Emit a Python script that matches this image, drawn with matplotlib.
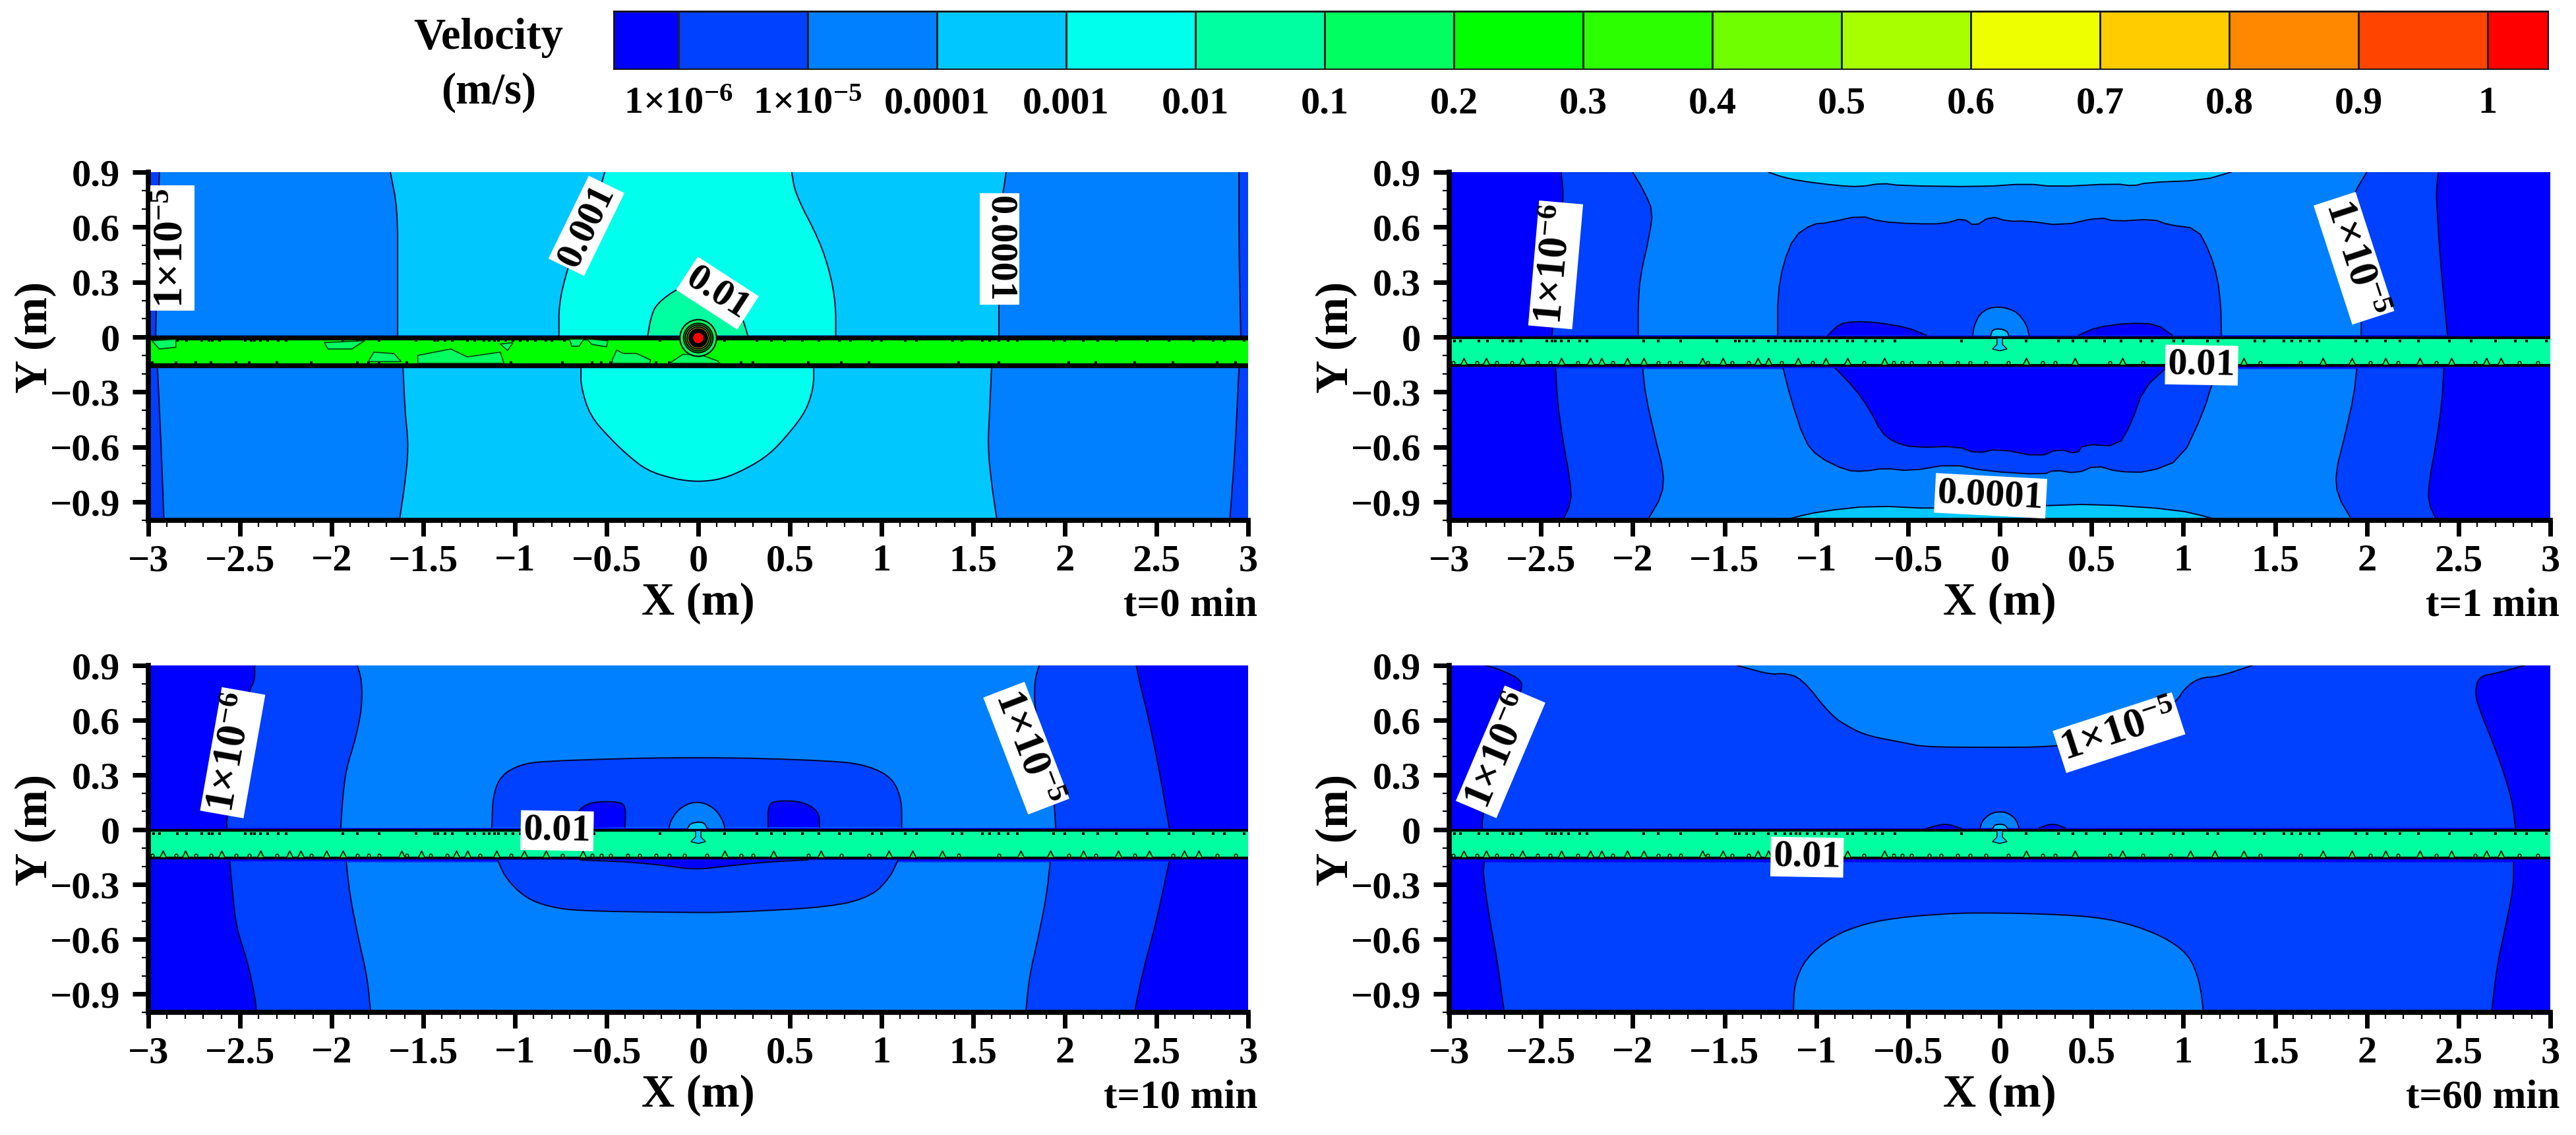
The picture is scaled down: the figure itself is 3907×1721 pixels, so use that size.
#!/usr/bin/env python3
"""Velocity contour maps around a leak source at t = 0, 1, 10 and 60 min."""
import matplotlib
matplotlib.use("Agg")
import matplotlib.pyplot as plt
from matplotlib.colors import ListedColormap
from matplotlib.patches import Circle
from matplotlib.ticker import MultipleLocator
import numpy as np

plt.rcParams["font.family"] = ["Liberation Serif", "DejaVu Serif"]
plt.rcParams["font.weight"] = "bold"
plt.rcParams["mathtext.default"] = "regular"

W, H = 3907, 1721

LEVEL_COLORS = ["#0000ff", "#0040ff", "#0080ff", "#00c8ff", "#00ffec", "#00ffa0",
                "#00ff60", "#00ff00", "#2bff00", "#70ff00", "#a8ff00", "#eeff00",
                "#ffcc00", "#ff8800", "#ff4400", "#ff0000"]
CBAR_EDGES = [-0.5, 0, 1, 2, 3, 4, 5, 6, 7, 8, 9, 10, 11, 12, 13, 14, 14.47]
CBAR_LABELS = ["1×10$^{-6}$", "1×10$^{-5}$", "0.0001", "0.001", "0.01", "0.1", "0.2", "0.3",
               "0.4", "0.5", "0.6", "0.7", "0.8", "0.9", "1"]

X_TICKS = [-3, -2.5, -2, -1.5, -1, -0.5, 0, 0.5, 1, 1.5, 2, 2.5, 3]
X_LABELS = ["−3", "−2.5", "−2", "−1.5", "−1", "−0.5", "0", "0.5", "1", "1.5", "2", "2.5", "3"]
Y_TICKS = [0.9, 0.6, 0.3, 0, -0.3, -0.6, -0.9]
Y_LABELS = ["0.9", "0.6", "0.3", "0", "−0.3", "−0.6", "−0.9"]

# t = 0 min contour lines
P1_UA_L = [(-2.96, 0.01), (-2.95, 0.5), (-2.94, 0.9)]
P1_UA_R = [(2.95, 0.9), (2.95, 0.5), (2.96, 0.01)]
P1_UB_L = [(-1.64, 0.01), (-1.64, 0.35), (-1.64, 0.7), (-1.68, 0.9)]
P1_UB_R = [(1.68, 0.9), (1.65, 0.7), (1.64, 0.35), (1.64, 0.01)]
P1_UC_L = [(-0.76, 0.01), (-0.76, 0.18), (-0.72, 0.35), (-0.66, 0.53), (-0.56, 0.72), (-0.51, 0.9)]
P1_UC_R = [(0.51, 0.9), (0.53, 0.78), (0.66, 0.53), (0.72, 0.35), (0.75, 0.18), (0.75, 0.01)]
P1_UG = [(-0.275, 0.01), (-0.26, 0.1), (-0.23, 0.18), (-0.1, 0.275), (0.02, 0.29),
         (0.15, 0.24), (0.24, 0.11), (0.27, 0.01)]
P1_LA_L = [(-2.95, -0.17), (-2.93, -0.6), (-2.915, -1)]
P1_LA_R = [(2.90, -1), (2.93, -0.6), (2.95, -0.17)]
P1_LB_L = [(-1.61, -0.17), (-1.6, -0.4), (-1.58, -0.6), (-1.6, -0.8), (-1.63, -1)]
P1_LB_R = [(1.63, -1), (1.6, -0.8), (1.58, -0.6), (1.59, -0.4), (1.6, -0.17)]
P1_LC = [(-0.64, -0.17), (-0.64, -0.27), (-0.59, -0.43), (-0.48, -0.553), (-0.39, -0.64),
         (-0.28, -0.728), (-0.13, -0.775), (0, -0.79), (0.13, -0.775), (0.26, -0.72),
         (0.39, -0.64), (0.5, -0.52), (0.59, -0.4), (0.63, -0.27), (0.63, -0.17)]
P1_LAYERS = [(2, [P1_UA_L, P1_UA_R]), (3, [P1_UB_L, P1_UB_R]), (4, [P1_UC_L, P1_UC_R]), (5, [P1_UG]),
             (2, [P1_LA_L, P1_LA_R]), (3, [P1_LB_L, P1_LB_R]), (4, [P1_LC])]
P1_BLOBS = [
    [(-2.98, -0.02), (-2.85, -0.012), (-2.85, -0.056), (-2.94, -0.065)],
    [(-2.04, -0.03), (-1.82, -0.02), (-1.89, -0.065), (-2.02, -0.065)],
    [(-1.77, -0.082), (-1.66, -0.09), (-1.62, -0.134), (-1.8, -0.134)],
    [(-1.53, -0.1), (-1.35, -0.065), (-1.26, -0.108), (-1.08, -0.082), (-1.06, -0.143), (-1.53, -0.143)],
    [(-1.08, -0.038), (-1.01, -0.03), (-1.04, -0.073)],
    [(-0.702, -0.011), (-0.624, -0.011), (-0.65, -0.05), (-0.69, -0.05)],
    [(-0.607, -0.011), (-0.493, -0.02), (-0.5, -0.053), (-0.58, -0.04)],
    [(-0.469, -0.125), (-0.445, -0.071), (-0.409, -0.089), (-0.337, -0.089), (-0.26, -0.125),
     (-0.265, -0.143), (-0.469, -0.143)],
    [(-0.157, -0.143), (-0.085, -0.095), (0.011, -0.095), (0.107, -0.131), (0.119, -0.143)],
]
P1_RING_RADII = [0.10, 0.08, 0.07, 0.06, 0.05]
P1_RING_LEVELS = [6, 7, 9, 12, 14]
P1_CORE_RADIUS = 0.028

# t = 1 min contour lines
P2_UA_L = [(-2.44, 0.01), (-2.4, 0.425), (-2.38, 0.75), (-2.38, 0.8), (-2.39, 0.9)]
P2_UA_R = [(2.39, 0.9), (2.38, 0.8), (2.38, 0.75), (2.4, 0.425), (2.44, 0.01)]
P2_UB_L = [(-1.97, 0.01), (-1.97, 0.177), (-1.96, 0.326), (-1.91, 0.55), (-1.89, 0.685), (-1.94, 0.8), (-2.0, 0.9)]
P2_UB_R = [(2.0, 0.9), (1.94, 0.8), (1.89, 0.685), (1.91, 0.55), (1.96, 0.326), (1.97, 0.177), (1.97, 0.01)]
P2_CAP_U = [(-1.26, 0.9), (-1.19, 0.875), (-1.09, 0.852), (-0.88, 0.826), (-0.76, 0.82), (-0.64, 0.84),
            (-0.54, 0.826), (-0.1, 0.82), (0.148, 0.837), (0.3, 0.82), (0.63, 0.837), (0.73, 0.824),
            (0.8, 0.843), (1.11, 0.856), (1.26, 0.9)]
P2_INNER_U = [(-1.21, 0.01), (-1.21, 0.227), (-1.18, 0.4), (-1.12, 0.55), (-1.02, 0.617), (-0.94, 0.623),
              (-0.76, 0.663), (-0.65, 0.63), (-0.47, 0.618), (-0.3, 0.618), (-0.2, 0.65), (-0.136, 0.603),
              (-0.05, 0.66), (0.045, 0.631), (0.148, 0.634), (0.337, 0.608), (0.543, 0.654), (0.63, 0.631),
              (0.835, 0.644), (0.92, 0.612), (1.076, 0.593), (1.144, 0.464), (1.187, 0.323), (1.205, 0.168),
              (1.208, 0.01)]
P2_BLOB_UL = [(-0.936, 0.01), (-0.874, 0.072), (-0.797, 0.085), (-0.677, 0.081), (-0.505, 0.053), (-0.4, 0.01)]
P2_BLOB_UR = [(0.43, 0.01), (0.526, 0.053), (0.698, 0.076), (0.853, 0.072), (0.94, 0.01)]
P2_BUBBLE = [(-0.147, 0.01), (-0.14, 0.06), (-0.11, 0.125), (-0.06, 0.158), (-0.007, 0.165), (0.05, 0.155),
             (0.1, 0.13), (0.145, 0.07), (0.16, 0.01)]
P2_BUBBLE_IN = [(-0.05, 0.005), (-0.04, 0.04), (0, 0.046), (0.04, 0.033), (0.05, 0.005)]
P2_LA_L = [(-2.42, -0.17), (-2.41, -0.356), (-2.38, -0.566), (-2.34, -0.789), (-2.335, -0.9), (-2.38, -1)]
P2_LA_R = [(2.38, -1), (2.335, -0.9), (2.34, -0.789), (2.38, -0.566), (2.41, -0.356), (2.42, -0.17)]
P2_LB_L = [(-1.945, -0.176), (-1.93, -0.318), (-1.88, -0.54), (-1.83, -0.74), (-1.84, -0.864), (-1.92, -1)]
P2_LB_R = [(1.92, -1), (1.84, -0.864), (1.83, -0.74), (1.88, -0.54), (1.93, -0.318), (1.945, -0.176)]
P2_CAP_L = [(-1.16, -1), (-1.14, -0.988), (-0.97, -0.95), (-0.693, -0.92), (-0.35, -0.937), (0.25, -0.92),
            (0.51, -0.911), (0.955, -0.94), (1.16, -0.988), (1.18, -1)]
P2_INNER_L = [(-1.18, -0.17), (-1.144, -0.318), (-1.064, -0.566), (-0.99, -0.653), (-0.84, -0.727),
              (-0.744, -0.734), (-0.63, -0.715), (-0.487, -0.731), (-0.265, -0.693), (-0.075, -0.731),
              (0.233, -0.751), (0.3, -0.725), (0.42, -0.744), (0.525, -0.7), (0.644, -0.735), (0.81, -0.738),
              (0.99, -0.667), (1.11, -0.41), (1.16, -0.243), (1.2, -0.17)]
P2_CORE_L = [(-0.896, -0.17), (-0.79, -0.28), (-0.71, -0.393), (-0.647, -0.517), (-0.58, -0.572),
             (-0.47, -0.603), (-0.23, -0.596), (-0.127, -0.635), (-0.007, -0.609), (0.217, -0.654),
             (0.32, -0.609), (0.42, -0.639), (0.457, -0.584), (0.646, -0.596), (0.715, -0.474),
             (0.784, -0.281), (0.905, -0.17)]
P2_LAYERS = [(1, [P2_UA_L, P2_UA_R]), (2, [P2_UB_L, P2_UB_R]), (3, [P2_CAP_U]), (1, [P2_INNER_U]),
             (0, [P2_BLOB_UL]), (0, [P2_BLOB_UR]), (2, [P2_BUBBLE]), (3, [P2_BUBBLE_IN]),
             (1, [P2_LA_L, P2_LA_R]), (2, [P2_LB_L, P2_LB_R]), (3, [P2_CAP_L]), (1, [P2_INNER_L]), (0, [P2_CORE_L])]

# t = 10 min contour lines
P3_UA_L = [(-2.57, 0.01), (-2.575, 0.054), (-2.5, 0.45), (-2.45, 0.766), (-2.42, 0.815), (-2.42, 0.9)]
P3_UA_R = [(2.39, 0.9), (2.41, 0.8), (2.46, 0.6), (2.52, 0.3), (2.57, 0.01)]
P3_UB_L = [(-1.95, 0.01), (-1.94, 0.177), (-1.92, 0.336), (-1.87, 0.496), (-1.835, 0.667), (-1.835, 0.815), (-1.86, 0.9)]
P3_UB_R = [(1.86, 0.9), (1.835, 0.815), (1.835, 0.667), (1.87, 0.496), (1.92, 0.336), (1.94, 0.177), (1.95, 0.01)]
P3_INNER_U = [(-1.126, 0.014), (-1.12, 0.188), (-1.077, 0.296), (-0.975, 0.356), (-0.83, 0.378), (-0.003, 0.4),
              (0.75, 0.378), (0.93, 0.35), (1.06, 0.284), (1.11, 0.164), (1.11, 0.014)]
P3_BLOB_UL = [(-0.67, 0.008), (-0.665, 0.098), (-0.59, 0.152), (-0.445, 0.155), (-0.394, 0.134), (-0.4, 0.014)]
P3_BLOB_UR = [(0.381, 0.014), (0.381, 0.14), (0.436, 0.16), (0.565, 0.155), (0.657, 0.104), (0.663, 0.014)]
P3_BUBBLE = [(-0.16, 0.008), (-0.15, 0.05), (-0.11, 0.11), (-0.05, 0.145), (0, 0.152), (0.05, 0.14), (0.1, 0.105),
             (0.135, 0.05), (0.145, 0.008)]
P3_BUBBLE_IN = [(-0.06, 0.005), (-0.04, 0.038), (0.03, 0.044), (0.05, 0.005)]
P3_LA_L = [(-2.556, -0.173), (-2.54, -0.351), (-2.52, -0.535), (-2.46, -0.719), (-2.42, -0.903), (-2.41, -1)]
P3_LA_R = [(2.38, -1), (2.42, -0.8), (2.5, -0.5), (2.57, -0.173)]
P3_LB_L = [(-1.92, -0.179), (-1.9, -0.363), (-1.854, -0.596), (-1.806, -0.805), (-1.787, -1)]
P3_LB_R = [(1.787, -1), (1.806, -0.805), (1.854, -0.596), (1.9, -0.363), (1.92, -0.179)]
P3_INNER_L = [(-1.095, -0.165), (-1.05, -0.267), (-0.94, -0.375), (-0.81, -0.423), (-0.645, -0.445),
              (-0.095, -0.453), (0.18, -0.453), (0.73, -0.423), (0.95, -0.363), (1.05, -0.255), (1.09, -0.165)]
P3_CORE_L = [(-0.645, -0.165), (-0.37, -0.177), (-0.185, -0.195), (-0.02, -0.219), (0.145, -0.2),
             (0.365, -0.177), (0.6, -0.165)]
P3_LAYERS = [(1, [P3_UA_L, P3_UA_R]), (2, [P3_UB_L, P3_UB_R]), (1, [P3_INNER_U]), (0, [P3_BLOB_UL]),
             (0, [P3_BLOB_UR]), (2, [P3_BUBBLE]), (3, [P3_BUBBLE_IN]), (1, [P3_LA_L, P3_LA_R]),
             (2, [P3_LB_L, P3_LB_R]), (1, [P3_INNER_L]), (0, [P3_CORE_L])]

# t = 60 min contour lines
P4_UA_L = [(-2.82, 0.007), (-2.82, 0.078), (-2.72, 0.4), (-2.61, 0.75), (-2.6, 0.82), (-2.73, 0.88), (-2.8, 0.9)]
P4_UA_R = [(2.86, 0.9), (2.71, 0.858), (2.61, 0.84), (2.59, 0.753), (2.61, 0.667), (2.71, 0.422), (2.79, 0.177), (2.81, 0.011)]
P4_CAP_U = [(-1.43, 0.9), (-1.25, 0.85), (-1.18, 0.858), (-1.08, 0.832), (-0.92, 0.626), (-0.81, 0.555),
            (-0.71, 0.512), (-0.52, 0.477), (-0.42, 0.455), (-0.13, 0.451), (0.307, 0.453), (0.55, 0.5),
            (0.8, 0.6), (0.96, 0.698), (1.01, 0.778), (1.09, 0.833), (1.194, 0.839), (1.376, 0.9)]
P4_BLOB_UL = [(-0.4, 0.007), (-0.295, 0.036), (-0.21, 0.007)]
P4_BLOB_UR = [(0.216, 0.01), (0.287, 0.036), (0.357, 0.01)]
P4_BUBBLE = [(-0.107, 0.01), (-0.095, 0.05), (-0.05, 0.09), (0.004, 0.1), (0.05, 0.09), (0.09, 0.055), (0.105, 0.01)]
P4_BUBBLE_IN = [(-0.04, 0.005), (-0.025, 0.03), (0.025, 0.03), (0.045, 0.005)]
P4_LA_L = [(-2.81, -0.178), (-2.815, -0.249), (-2.78, -0.49), (-2.74, -0.704), (-2.7, -1)]
P4_LA_R = [(2.68, -1), (2.71, -0.744), (2.75, -0.56), (2.8, -0.314), (2.8, -0.178)]
P4_CAP_L = [(-1.124, -1), (-1.12, -0.846), (-1.058, -0.704), (-0.913, -0.583), (-0.73, -0.512), (-0.52, -0.477),
            (-0.27, -0.459), (-0.13, -0.455), (0.186, -0.459), (0.49, -0.474), (0.69, -0.51), (0.89, -0.584),
            (1.03, -0.682), (1.09, -0.83), (1.11, -1)]
P4_LAYERS = [(1, [P4_UA_L, P4_UA_R]), (2, [P4_CAP_U]), (0, [P4_BLOB_UL]), (0, [P4_BLOB_UR]),
             (2, [P4_BUBBLE]), (3, [P4_BUBBLE_IN]), (1, [P4_LA_L, P4_LA_R]), (2, [P4_CAP_L])]

# seepage band details shared by the later panels
STEM_X = [-0.015, -0.015, -0.04, 0, 0.04, 0.015, 0.015]
STEM_Y = [-0.005, -0.04, -0.065, -0.075, -0.065, -0.04, -0.005]
SPECK_X = [-2.97, -2.94, -2.84, -2.79, -2.71, -2.67, -2.65, -2.61, -2.47, -2.44, -2.42, -2.39, -2.35, -2.29,
           -2.25, -1.94, -1.86, -1.74, -1.54, -1.44, -1.42, -1.38, -1.34, -1.26, -1.22, -1.17, -1.14, -1.11,
           -1.09, -1.05, -1.01, -0.97, -0.93, -0.89, -0.83, -0.8, -0.73, -0.68, -0.64, -0.57, -0.21, 0.145,
           0.32, 0.4, 0.47, 0.57, 0.66, 0.77, 0.83, 0.95, 1.0, 1.13, 1.19, 1.39, 1.44, 1.55, 1.59, 1.64,
           1.69, 1.74, 1.94, 2.0, 2.1, 2.18, 2.28, 2.45, 2.57, 2.7, 2.81, 2.87, 2.98]
BUMP_X = [-2.92, -2.8, -2.6, -2.39, -2.23, -2.17, -2.03, -1.94, -1.62, -1.51, -1.32, -1.26, -1.1, -0.95, -0.83,
          -0.63, 0.145, 0.41, 0.67, 1.04, 1.17, 1.33, 1.76, 1.92, 2.1, 2.29, 2.46, 2.65, 2.73]
DOT_X = [-2.98, -2.85, -2.74, -2.66, -2.52, -2.45, -2.3, -2.11, -1.86, -1.8, -1.74, -1.59, -1.46, -1.37, -1.19,
         -1.02, -0.74, -0.58, -0.53, -0.48, -0.385, -0.32, -0.23, -0.16, -0.075, 0.045, 0.234, 0.3, 0.6, 0.78,
         0.93, 1.42, 1.64, 2.02, 2.17, 2.38, 2.59, 2.83, 2.93]

# (text, x, y, rotation); the trailing math space keeps the exponent inside the white box
TAG_E5 = "1×10$^{-5\\ \\ }$"
TAG_E6 = "1×10$^{-6\\ \\ }$"
P1_TAGS = [(TAG_E5, -2.87, 0.485, 90), ("0.001", -0.61, 0.607, 64), ("0.01", 0.105, 0.24, -33),
           ("0.0001", 1.645, 0.482, -90)]
P2_TAGS = [(TAG_E6, -2.42, 0.394, 85), (TAG_E5, 1.93, 0.43, -72), ("0.0001", -0.05, -0.866, -3),
           ("0.01", 1.1, -0.153, -1)]
P3_TAGS = [(TAG_E6, -2.54, 0.422, 80), (TAG_E5, 1.79, 0.447, -69), ("0.01", -0.77, -0.005, -1)]
P4_TAGS = [(TAG_E6, -2.72, 0.427, 67), (TAG_E5, 0.65, 0.532, 18), ("0.01", -1.05, -0.15, -1)]


def axes_px(fig, left, top, right, bottom):
    return fig.add_axes([left / W, 1 - bottom / H, (right - left) / W, (bottom - top) / H])


def soften(curve, passes):
    """Corner cutting so hand-read contour lines are not visibly angular."""
    pts = np.array(curve, dtype=float)
    for _ in range(passes):
        q = 0.75 * pts[:-1] + 0.25 * pts[1:]
        r = 0.25 * pts[:-1] + 0.75 * pts[1:]
        mid = np.empty((2 * len(q), 2))
        mid[0::2] = q
        mid[1::2] = r
        pts = np.vstack([pts[:1], mid, pts[-1:]])
    return pts


def draw_layers(ax, layers, passes):
    for level, curves in layers:
        smooth = [soften(c, passes) for c in curves]
        pts = np.vstack(smooth)
        ax.fill(pts[:, 0], pts[:, 1], color=LEVEL_COLORS[level], lw=0, zorder=2)
        for c in smooth:
            ax.plot(c[:, 0], c[:, 1], color="#00002a", lw=1.4, zorder=2)


def setup_axes(ax, title):
    ax.set_xlim(-3, 3)
    ax.set_ylim(-1, 0.9)
    ax.set_xticks(X_TICKS, X_LABELS)
    ax.set_yticks(Y_TICKS, Y_LABELS)
    ax.xaxis.set_minor_locator(MultipleLocator(0.1))
    ax.yaxis.set_minor_locator(MultipleLocator(0.1))
    ax.tick_params(which="major", length=17, width=5, labelsize=42, pad=9)
    ax.tick_params(axis="y", which="major", pad=14)
    ax.tick_params(which="minor", length=7, width=1.6)
    for side in ("top", "right"):
        ax.spines[side].set_visible(False)
    for side in ("left", "bottom"):
        ax.spines[side].set_linewidth(5.5)
        ax.spines[side].set_zorder(8)
    ax.annotate(title, xy=(1, 0), xycoords="axes fraction", xytext=(10, -73), textcoords="offset points",
                ha="right", va="top", fontsize=44)
    ax.annotate("X (m)", xy=(0.5, 0), xycoords="axes fraction", xytext=(0, -68), textcoords="offset points",
                ha="center", va="top", fontsize=50)
    ax.annotate("Y (m)", xy=(0, 0.525), xycoords="axes fraction", xytext=(-123, 0), textcoords="offset points",
                ha="center", va="center", rotation=90, fontsize=50)


def draw_band(ax, level, band_lw):
    ax.fill_between([-3, 3], -0.155, -0.003, color=LEVEL_COLORS[level], lw=0, zorder=3)
    ax.plot([-3, 3], [-0.003, -0.003], color="black", lw=band_lw, zorder=4)
    ax.plot([-3, 3], [-0.155, -0.155], color="black", lw=band_lw, zorder=4)


def draw_seep_details(ax):
    ax.fill(STEM_X, STEM_Y, fc=LEVEL_COLORS[3], ec="black", lw=1, zorder=4)
    ax.scatter(SPECK_X, [-0.02] * len(SPECK_X), s=8, marker="s", color="black", lw=0, zorder=4)
    ax.scatter(BUMP_X, [-0.132] * len(BUMP_X), s=55, marker="^", fc=LEVEL_COLORS[6], ec="black", lw=1.2, zorder=4)
    ax.scatter(DOT_X, [-0.14] * len(DOT_X), s=12, marker="o", fc=LEVEL_COLORS[6], ec="black", lw=1, zorder=4)


def draw_tags(ax, tags):
    for text, x, y, rot in tags:
        size = 46 if "$" in text else 42
        ax.text(x, y, text, rotation=rot, rotation_mode="anchor", ha="center", va="center", fontsize=size, zorder=9,
                bbox=dict(fc="white", ec="none", pad=3))


def main():
    fig = plt.figure(figsize=(W / 100, H / 100), dpi=100)

    cax = axes_px(fig, 931, 17, 3865, 105)
    cmap = ListedColormap(LEVEL_COLORS)
    cax.pcolormesh(CBAR_EDGES, [0, 1], np.arange(16).reshape(1, -1), cmap=cmap, vmin=-0.5, vmax=15.5,
                   edgecolors="#222222", linewidth=0.9)
    cax.set_xlim(CBAR_EDGES[0], CBAR_EDGES[-1])
    cax.set_yticks([])
    cax.set_xticks(range(len(CBAR_LABELS)), CBAR_LABELS, fontsize=42)
    cax.tick_params(axis="x", length=0, pad=19)
    for spine in cax.spines.values():
        spine.set_linewidth(1.2)
    fig.text(741 / W, 1 - 58 / H, "Velocity", fontsize=48, ha="center", va="center")
    fig.text(741 / W, 1 - 140 / H, "(m/s)", fontsize=48, ha="center", va="center")

    boxes = [(225, 261, 1893, 789), (2198, 261, 3868, 789), (225, 1009, 1893, 1535), (2198, 1009, 3868, 1535)]
    bases = [1, 0, 0, 0]
    layers = [P1_LAYERS, P2_LAYERS, P3_LAYERS, P4_LAYERS]
    passes = [2, 1, 2, 2]
    titles = ["t=0 min", "t=1 min", "t=10 min", "t=60 min"]
    tags = [P1_TAGS, P2_TAGS, P3_TAGS, P4_TAGS]

    for i, box in enumerate(boxes):
        ax = axes_px(fig, *box)
        ax.set_facecolor(LEVEL_COLORS[bases[i]])
        draw_layers(ax, layers[i], passes[i])
        if i == 0:
            draw_band(ax, 7, 5.2)
            ax.scatter(SPECK_X, [-0.018] * len(SPECK_X), s=12, marker="s", color="black", lw=0, zorder=4)
            ax.scatter(DOT_X, [-0.14] * len(DOT_X), s=12, marker="s", color="black", lw=0, zorder=4)
            for blob in P1_BLOBS:
                ax.fill([p[0] for p in blob], [p[1] for p in blob], fc=LEVEL_COLORS[6], ec="#00400a", lw=1.2, zorder=4)
            for r, lev in zip(P1_RING_RADII, P1_RING_LEVELS):
                ax.add_patch(Circle((0, -0.005), r, fc=LEVEL_COLORS[lev], ec="black", lw=1.5, zorder=5))
            ax.add_patch(Circle((0, -0.005), 0.05, fc="black", lw=0, zorder=5))
            ax.add_patch(Circle((0, -0.005), P1_CORE_RADIUS, fc=LEVEL_COLORS[15], lw=0, zorder=6))
        else:
            draw_band(ax, 5, 3)
            draw_seep_details(ax)
        setup_axes(ax, titles[i])
        draw_tags(ax, tags[i])

    fig.savefig("out.png", dpi=100)


if __name__ == "__main__":
    main()
